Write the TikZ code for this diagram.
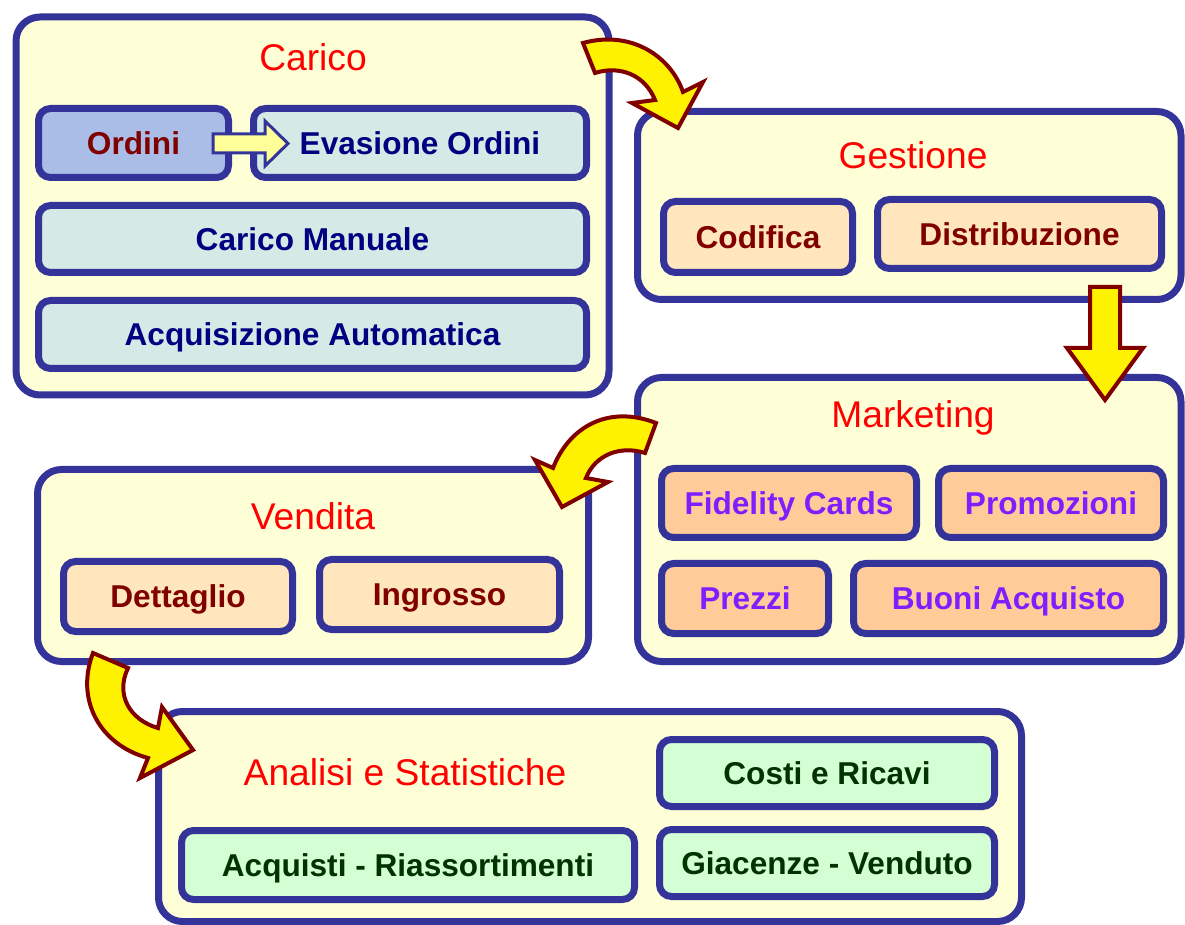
\documentclass[tikz,border=0pt]{standalone}
\usepackage{fontspec}
\setmainfont{Liberation Sans}
\usetikzlibrary{positioning}

\definecolor{framecol}{HTML}{333399}
\definecolor{cream}{HTML}{FFFFD7}
\definecolor{icecol}{HTML}{D5E9E7}
\definecolor{lilac}{HTML}{A9BDE6}
\definecolor{peach}{HTML}{FFE6BC}
\definecolor{apricot}{HTML}{FFCC99}
\definecolor{mint}{HTML}{D4FFD4}
\definecolor{darkred}{HTML}{800000}
\definecolor{navy}{HTML}{000080}
\definecolor{violet}{HTML}{7F1FFF}
\definecolor{darkgreen}{HTML}{003300}
\definecolor{pale}{HTML}{FFFF99}

\begin{document}
\begin{tikzpicture}[x=0.5pt, y=-0.5pt,
    panel/.style={draw=framecol, fill=cream, line width=3.5pt, rounded corners=12pt, inner sep=0pt},
    item/.style={draw=framecol, line width=3.5pt, rounded corners=6pt, inner sep=0pt,
                 text height=11.3pt, text depth=0pt,
                 font=\fontsize{15.8}{19}\selectfont\bfseries},
    carbox/.style={item, fill=icecol, text=navy},
    gesbox/.style={item, fill=peach, text=darkred},
    mktbox/.style={item, fill=apricot, text=violet},
    anabox/.style={item, fill=mint, text=darkgreen},
    title/.style={text=red, font=\fontsize{18.6}{22}\selectfont},
    turn/.style={draw=darkred, fill=yellow, line width=2pt, line join=miter}]

    \useasboundingbox (0 , 0) rectangle (1185 , 925);

    % Carico
    \node [panel, minimum width=296.5pt, minimum height=189pt] (carico) at (312.5 , 206) {};
    \node [title] (tcarico) at (313 , 57) {Carico};
    \node [item, fill=lilac, text=darkred, minimum width=95pt, minimum height=34.5pt] (ordini) at (133.5 , 143) {Ordini};
    \node [carbox, minimum width=166.5pt, minimum height=34.5pt] (evasione) at (420 , 143) {Evasione Ordini};
    \node [carbox, minimum width=274pt, minimum height=33.5pt] (manuale) at (312.5 , 239) {Carico Manuale};
    \node [carbox, minimum width=274pt, minimum height=34pt] (acquisizione) at (312.5 , 334.5) {Acquisizione Automatica};
    \draw [draw=framecol, fill=pale, line width=1.5pt]
      (213 , 134) -- (265 , 134) -- (265 , 121) -- (288 , 143.5) -- (265 , 166) -- (265 , 153) -- (213 , 153) -- cycle;

    % Gestione
    \node [panel, minimum width=271.75pt, minimum height=94pt] (gestione) at (909.25 , 205.5) {};
    \node [title] (tgestione) at (913 , 155) {Gestione};
    \node [gesbox, minimum width=94.5pt, minimum height=35.5pt] (codifica) at (758 , 237) {Codifica};
    \node [gesbox, minimum width=142pt, minimum height=34.5pt] (distribuzione) at (1019.5 , 234) {Distribuzione};

    % Marketing
    \node [panel, minimum width=271.75pt, minimum height=142pt] (marketing) at (909.25 , 519.5) {};
    \node [title] (tmarketing) at (913 , 418) {Marketing};
    \node [mktbox, minimum width=127.5pt, minimum height=34.5pt] (fidelity) at (789 , 503) {Fidelity Cards};
    \node [mktbox, minimum width=112.5pt, minimum height=34.5pt] (promozioni) at (1051 , 503) {Promozioni};
    \node [mktbox, minimum width=83.5pt, minimum height=35pt] (prezzi) at (745 , 598.5) {Prezzi};
    \node [mktbox, minimum width=155pt, minimum height=35pt] (buoni) at (1008.5 , 598.5) {Buoni Acquisto};

    % Vendita
    \node [panel, minimum width=275.5pt, minimum height=96pt] (vendita) at (313 , 565.5) {};
    \node [title] (tvendita) at (313 , 516) {Vendita};
    \node [gesbox, minimum width=114.5pt, minimum height=35pt] (dettaglio) at (178 , 596.5) {Dettaglio};
    \node [gesbox, minimum width=120pt, minimum height=35pt] (ingrosso) at (439.5 , 594.5) {Ingrosso};

    % Analisi e Statistiche
    \node [panel, minimum width=431.5pt, minimum height=105pt] (analisi) at (590 , 816.5) {};
    \node [title] (tanalisi) at (405 , 772) {Analisi e Statistiche};
    \node [anabox, minimum width=167.5pt, minimum height=33.5pt] (costi) at (827 , 773) {Costi e Ricavi};
    \node [anabox, minimum width=226.5pt, minimum height=34.5pt] (acquisti) at (408 , 865) {Acquisti - Riassortimenti};
    \node [anabox, minimum width=167.5pt, minimum height=33.5pt] (giacenze) at (827 , 863) {Giacenze - Venduto};

    % block arrows between the panels
    \draw [turn] (583 , 43) .. controls (630 , 30) and (670 , 55) .. (683 , 92)
      -- (703 , 82) -- (678 , 128) -- (632 , 103) -- (655 , 100)
      .. controls (645 , 75) and (620 , 65) .. (595 , 73) -- cycle;
    \draw [turn] (1090 , 287) -- (1120 , 287) -- (1120 , 348) -- (1143 , 348)
      -- (1105 , 400) -- (1067 , 348) -- (1090 , 348) -- cycle;
    \draw [turn] (656 , 423) .. controls (610 , 405) and (570 , 425) .. (553 , 468)
      -- (535 , 460) -- (562 , 507) -- (608 , 482) -- (586 , 478)
      .. controls (595 , 455) and (620 , 445) .. (645 , 453) -- cycle;
    \draw [turn] (93 , 653) .. controls (75 , 700) and (100 , 745) .. (148 , 758)
      -- (140 , 778) -- (193 , 750) -- (162 , 707) -- (158 , 728)
      .. controls (130 , 720) and (115 , 695) .. (128 , 668) -- cycle;
\end{tikzpicture}
\end{document}
